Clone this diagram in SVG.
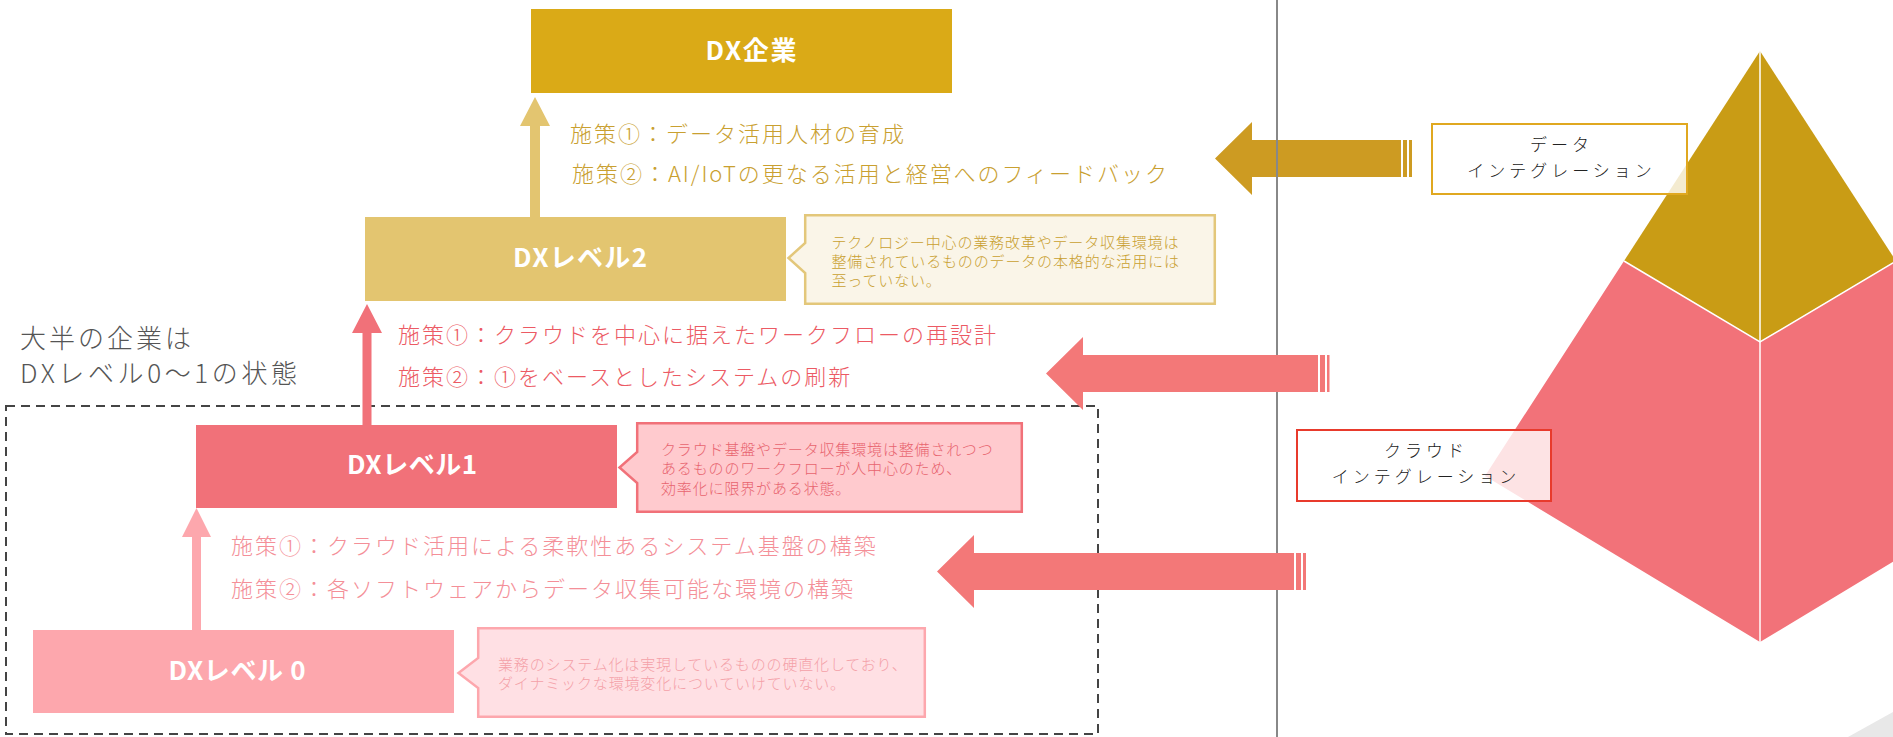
<svg xmlns="http://www.w3.org/2000/svg" width="1893" height="737" viewBox="0 0 1893 737">
<style>
text{font-family:"Noto Sans CJK JP","Noto Sans CJK SC",sans-serif}
.title{font-size:26px;font-weight:700;fill:#fff;text-anchor:middle}
.measure{font-size:22px;font-weight:300;letter-spacing:2px}
.gold{fill:#C9A030}
.pink{fill:#EC5A64}
.lpink{fill:#F48F98}
.note{font-size:15px;font-weight:300;letter-spacing:0.85px}
.lbl{font-size:17px;font-weight:300;fill:#222;letter-spacing:4px;text-anchor:middle}
.head{font-size:26px;font-weight:300;fill:#555;letter-spacing:3px}
</style>
<rect width="1893" height="737" fill="#fff"/>

<!-- pyramid -->
<g id="pyramid">
<polygon points="1760,51 1624,261 1760,342 1896,261" fill="#C99C15"/>
<polygon points="1624,261 1485,476 1760,642 2035,476 1896,261 1760,342" fill="#F27279"/>
<polyline points="1624,261 1760,342 1896,261" fill="none" stroke="#fff" stroke-width="1.5"/>
<line x1="1760" y1="51" x2="1760" y2="642" stroke="#fff" stroke-width="1.5"/>
<polygon points="1848,737 1893,712 1893,737" fill="#E8E8E8"/>
</g>

<!-- dashed region -->
<rect id="majority-region" x="6" y="406" width="1092" height="328" fill="none" stroke="#444" stroke-width="2" stroke-dasharray="9 6"/>

<g id="majority-label">
<text class="head" x="20" y="348">大半の企業は</text>
<text class="head" x="20" y="383" textLength="280" lengthAdjust="spacing">DXレベル0～1の状態</text>
</g>

<g id="connectors">
<!-- up arrows -->
<polygon points="535,97 550,126 540,126 540,217 530,217 530,126 520,126" fill="#E3C570"/>
<polygon points="367,304 382,333 371.5,333 371.5,425 362.5,425 362.5,333 352,333" fill="#F17179"/>
<polygon points="196.5,508 211,537 201,537 201,630 192,630 192,537 182,537" fill="#FDA7AD"/>
<!-- gold big arrow -->
<g fill="#CD9B22">
<polygon points="1215,158.5 1252,122 1252,140 1401,140 1401,177 1252,177 1252,195"/>
<rect x="1403" y="140" width="4" height="37"/>
<rect x="1409" y="140" width="3" height="37"/>
</g>
<line x1="1277" y1="0" x2="1277" y2="737" stroke="#888" stroke-width="2"/>
<g fill="#F37878">
<polygon points="1046,373.5 1083,337 1083,355 1318,355 1318,392 1083,392 1083,410"/>
<rect x="1320" y="355" width="5" height="37"/>
<rect x="1327" y="355" width="2.5" height="37"/>
<polygon points="937,571.5 974,535 974,553 1294,553 1294,590 974,590 974,608"/>
<rect x="1296" y="553" width="5" height="37"/>
<rect x="1303" y="553" width="3" height="37"/>
</g>
</g>

<g id="dx-enterprise">
<rect x="531" y="9" width="421" height="84" fill="#DAAA17"/>
<text class="title" x="751" y="60" textLength="91" lengthAdjust="spacing">DX企業</text>
</g>

<g id="measures-level2">
<text class="measure gold" x="570" y="142">施策①：データ活用人材の育成</text>
<text class="measure gold" x="572" y="181.5" textLength="597" lengthAdjust="spacing">施策②：AI/IoTの更なる活用と経営へのフィードバック</text>
</g>

<g id="dx-level2">
<rect x="365" y="217" width="421" height="84" fill="#E3C570"/>
<text class="title" x="580" y="267" textLength="134" lengthAdjust="spacing">DXレベル2</text>
</g>
<g id="note-level2">
<path d="M805.2,215.3 H1214.8 V303.8 H805.2 V273 L788.5,258 L805.2,243 Z" fill="#FAF5E8" stroke="#E3C77A" stroke-width="2.5"/>
<text class="note gold" x="831.5" y="248">テクノロジー中心の業務改革やデータ収集環境は</text>
<text class="note gold" x="831.5" y="267">整備されているもののデータの本格的な活用には</text>
<text class="note gold" x="831.5" y="286">至っていない。</text>
</g>

<g id="measures-level1">
<text class="measure pink" x="398" y="342.5">施策①：クラウドを中心に据えたワークフローの再設計</text>
<text class="measure pink" x="398" y="385">施策②：①をベースとしたシステムの刷新</text>
</g>

<g id="dx-level1">
<rect x="196" y="425" width="421" height="83" fill="#F17179"/>
<text class="title" x="412" y="474" textLength="130" lengthAdjust="spacing">DXレベル1</text>
</g>
<g id="note-level1">
<path d="M637.2,423.2 H1021.8 V511.8 H637.2 V483 L619.5,467.5 L637.2,452 Z" fill="#FFCACE" stroke="#F17179" stroke-width="2.5"/>
<text class="note" fill="#E8646E" x="661" y="455">クラウド基盤やデータ収集環境は整備されつつ</text>
<text class="note" fill="#E8646E" x="661" y="474">あるもののワークフローが人中心のため、</text>
<text class="note" fill="#E8646E" x="661" y="494">効率化に限界がある状態。</text>
</g>

<g id="measures-level0">
<text class="measure lpink" x="231" y="554">施策①：クラウド活用による柔軟性あるシステム基盤の構築</text>
<text class="measure lpink" x="231" y="597">施策②：各ソフトウェアからデータ収集可能な環境の構築</text>
</g>

<g id="dx-level0">
<rect x="33" y="630" width="421" height="83" fill="#FDA7AD"/>
<text class="title" x="237" y="680" textLength="137" lengthAdjust="spacing">DXレベル 0</text>
</g>
<g id="note-level0">
<path d="M478.2,628.2 H924.8 V716.8 H478.2 V688 L458.5,673 L478.2,658 Z" fill="#FFE0E4" stroke="#FDA7AD" stroke-width="2.5"/>
<text class="note" fill="#F4A0A8" x="498" y="670">業務のシステム化は実現しているものの硬直化しており、</text>
<text class="note" fill="#F4A0A8" x="498" y="689">ダイナミックな環境変化についていけていない。</text>
</g>

<g id="label-data">
<rect x="1432" y="124" width="255" height="70" fill="#fff" fill-opacity="0.8" stroke="#E0A820" stroke-width="2"/>
<text class="lbl" x="1561.5" y="151">データ</text>
<text class="lbl" x="1561.5" y="177">インテグレーション</text>
</g>

<g id="label-cloud">
<rect x="1297" y="430" width="254" height="71" fill="#fff" fill-opacity="0.8" stroke="#E83A2C" stroke-width="2"/>
<text class="lbl" x="1426" y="457">クラウド</text>
<text class="lbl" x="1426" y="483">インテグレーション</text>
</g>
</svg>
